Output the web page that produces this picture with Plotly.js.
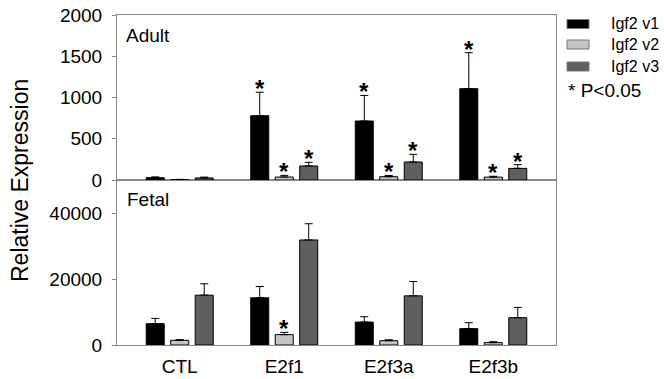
<!DOCTYPE html>
<html>
<head>
<meta charset="utf-8">
<script src="https://cdn.plot.ly/plotly-3.0.1.min.js"></script>
<style>html,body{margin:0;padding:0;background:#fff;}#chart{width:664px;height:379px;}</style>
</head>
<body>
<div id="chart"></div>
<script>
// ---- data ----
const categories = ['CTL', 'E2f1', 'E2f3a', 'E2f3b'];
const seriesNames = ['Igf2 v1', 'Igf2 v2', 'Igf2 v3'];

const adultV1 = [28, 779, 715, 1107];
const adultV1Err = [10, 285, 310, 436];
const adultV2 = [5, 36, 40, 35];
const adultV2Err = [3, 20, 15, 10];
const adultV3 = [25, 170, 218, 141];
const adultV3Err = [10, 44, 93, 45];

const fetalV1 = [6460, 14300, 6950, 4950];
const fetalV1Err = [1600, 3430, 1620, 1810];
const fetalV2 = [1420, 3140, 1300, 720];
const fetalV2Err = [200, 700, 300, 280];
const fetalV3 = [15100, 31830, 14900, 8270];
const fetalV3Err = [3440, 4920, 4340, 3120];

// significance flags (1 = P<0.05)
const adultSigV1 = [0, 1, 1, 1];
const adultSigV2 = [0, 1, 1, 1];
const adultSigV3 = [0, 1, 1, 1];
const fetalSigV1 = [0, 0, 0, 0];
const fetalSigV2 = [0, 1, 0, 0];
const fetalSigV3 = [0, 0, 0, 0];

const adultTicks = [0, 500, 1000, 1500, 2000];
const fetalTicks = [0, 20000, 40000];

// ---- styles ----
const colors = ['#000000', '#c4c4c4', '#5f5f5f'];
const FONT = 'Liberation Sans, Arial, sans-serif';
const W = 664, H = 379;
const M = {l: 117, r: 108, t: 15, b: 34};
const PW = W - M.l - M.r, PH = H - M.t - M.b;
const px = x => (x - M.l) / PW;
const py = y => (H - M.b - y) / PH;

const zeros = categories.map(() => 0);
function barTrace(vals, errs, i, xa, ya) {
  return {
    type: 'bar', x: categories, y: vals, xaxis: xa, yaxis: ya,
    name: seriesNames[i], showlegend: false,
    marker: {color: colors[i], line: {color: '#000', width: 1}},
    error_y: {type: 'data', array: errs, arrayminus: zeros, symmetric: false,
              visible: true, color: '#000', thickness: 1, width: 4},
    hoverinfo: 'skip'
  };
}

const data = [
  barTrace(adultV1, adultV1Err, 0, 'x2', 'y2'),
  barTrace(adultV2, adultV2Err, 1, 'x2', 'y2'),
  barTrace(adultV3, adultV3Err, 2, 'x2', 'y2'),
  barTrace(fetalV1, fetalV1Err, 0, 'x', 'y'),
  barTrace(fetalV2, fetalV2Err, 1, 'x', 'y'),
  barTrace(fetalV3, fetalV3Err, 2, 'x', 'y')
];

const slot = 0.234;
const annotations = [];
function stars(vals, errs, sig, i, xa, ya) {
  sig.forEach((s, k) => {
    if (!s) return;
    annotations.push({
      x: k + (i - 1) * slot, y: vals[k] + errs[k], xref: xa, yref: ya,
      text: '<b>*</b>', showarrow: false, yanchor: 'bottom', xanchor: 'center', yshift: -12,
      font: {family: FONT, size: 24, color: '#000'}
    });
  });
}
stars(adultV1, adultV1Err, adultSigV1, 0, 'x2', 'y2');
stars(adultV2, adultV2Err, adultSigV2, 1, 'x2', 'y2');
stars(adultV3, adultV3Err, adultSigV3, 2, 'x2', 'y2');
stars(fetalV1, fetalV1Err, fetalSigV1, 0, 'x', 'y');
stars(fetalV2, fetalV2Err, fetalSigV2, 1, 'x', 'y');
stars(fetalV3, fetalV3Err, fetalSigV3, 2, 'x', 'y');

// panel labels
annotations.push({xref: 'paper', yref: 'paper', x: px(124), y: py(36), text: 'Adult',
  showarrow: false, xanchor: 'left', yanchor: 'middle', font: {family: FONT, size: 19, color: '#000'}});
annotations.push({xref: 'paper', yref: 'paper', x: px(125), y: py(200), text: 'Fetal',
  showarrow: false, xanchor: 'left', yanchor: 'middle', font: {family: FONT, size: 19, color: '#000'}});
// y title
annotations.push({xref: 'paper', yref: 'paper', x: px(20), y: py(181), text: 'Relative Expression',
  showarrow: false, textangle: -90, xanchor: 'center', yanchor: 'middle',
  font: {family: FONT, size: 23, color: '#000'}});

// legend
const shapes = [];
const legY = [24, 44.5, 66.5];
seriesNames.forEach((n, i) => {
  shapes.push({type: 'rect', xref: 'paper', yref: 'paper',
    x0: px(567), x1: px(589), y0: py(legY[i] - 4.5), y1: py(legY[i] + 4.5),
    fillcolor: colors[i], line: {color: '#777', width: 1}});
  annotations.push({xref: 'paper', yref: 'paper', x: px(609), y: py(legY[i]), text: n,
    showarrow: false, xanchor: 'left', yanchor: 'middle', font: {family: FONT, size: 16, color: '#000'}});
});
annotations.push({xref: 'paper', yref: 'paper', x: px(566), y: py(90), text: '* P<0.05',
  showarrow: false, xanchor: 'left', yanchor: 'middle', font: {family: FONT, size: 19, color: '#000'}});

const axColor = '#888';
const yCommon = {showline: true, mirror: true, linecolor: axColor, linewidth: 1,
  ticks: 'outside', ticklen: 4, tickcolor: axColor, showgrid: false, zeroline: false,
  tickfont: {family: FONT, size: 19, color: '#000'}, ticklabelstandoff: 6, fixedrange: true};
const xCommon = {type: 'category', range: [-0.6, 3.6], showline: true, mirror: true,
  linecolor: axColor, linewidth: 1, ticks: '', showgrid: false, zeroline: false, fixedrange: true};

const layout = {
  width: W, height: H, margin: M, paper_bgcolor: '#fff', plot_bgcolor: '#fff',
  barmode: 'group', bargap: 0.297, bargroupgap: 0.265, showlegend: false,
  font: {family: FONT},
  xaxis: Object.assign({}, xCommon, {anchor: 'y', domain: [0, 1],
    tickfont: {family: FONT, size: 19, color: '#000'}, ticklabelstandoff: 4}),
  yaxis: Object.assign({}, yCommon, {domain: [0, 0.5], range: [0, 50000], tickvals: fetalTicks,
    ticktext: fetalTicks.map(String), anchor: 'x'}),
  xaxis2: Object.assign({}, xCommon, {anchor: 'y2', domain: [0, 1], showticklabels: false}),
  yaxis2: Object.assign({}, yCommon, {domain: [0.5, 1], range: [0, 2000], tickvals: adultTicks,
    ticktext: adultTicks.map(String), anchor: 'x2'}),
  annotations: annotations, shapes: shapes
};

Plotly.newPlot('chart', data, layout, {displayModeBar: false, staticPlot: true});
</script>
</body>
</html>
